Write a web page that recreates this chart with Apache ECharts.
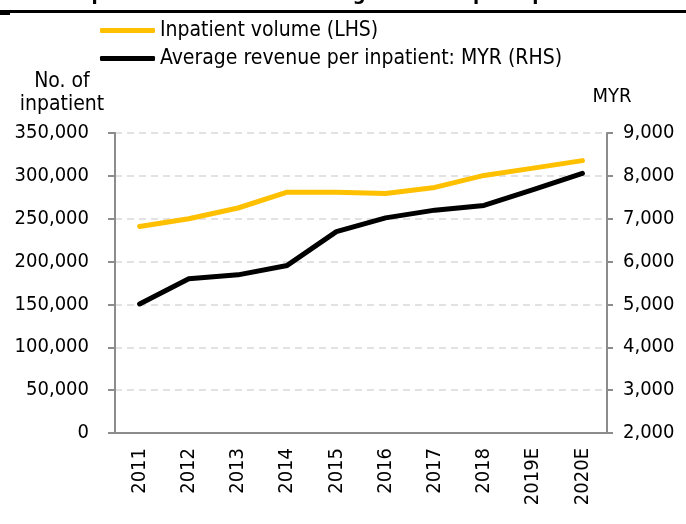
<!DOCTYPE html>
<html>
<head>
<meta charset="utf-8">
<script src="https://cdn.jsdelivr.net/npm/echarts@6/dist/echarts.min.js"></script>
<style>
  html, body { margin: 0; padding: 0; background: #fff; }
  #chart { width: 686px; height: 524px; }
</style>
</head>
<body>
<div id="chart"></div>
<script>
const years = ['2011', '2012', '2013', '2014', '2015', '2016', '2017', '2018', '2019E', '2020E'];
const inpatientVolume = [241000, 250000, 262500, 281000, 280800, 279400, 286500, 300500, 309000, 317800];
const revenuePerInpatient = [5010, 5600, 5690, 5910, 6700, 7020, 7200, 7310, 7680, 8060];

const FONT = 'DejaVu Sans Condensed';
const axisGray = '#8c8c8c';

let chart = echarts.init(document.getElementById('chart'));

let options = {
  animation: false,
  textStyle: { fontFamily: FONT },
  legend: {
    orient: 'vertical',
    left: 100,
    top: 20,
    padding: 0,
    itemGap: 7,
    itemWidth: 55,
    itemHeight: 5,
    icon: 'roundRect',
    textStyle: { fontFamily: FONT, fontSize: 21, lineHeight: 21, color: '#000' },
    data: ['Inpatient volume (LHS)', 'Average revenue per inpatient: MYR (RHS)']
  },
  grid: { left: 115, right: 79, top: 133, bottom: 91 },
  xAxis: {
    type: 'category',
    data: years,
    boundaryGap: true,
    axisLine: { lineStyle: { color: axisGray, width: 2 } },
    axisTick: { length: 6, lineStyle: { color: axisGray, width: 2 } },
    axisLabel: { rotate: 90, margin: 15, fontSize: 20, color: '#000', fontFamily: FONT }
  },
  yAxis: [
    {
      type: 'value',
      min: 0,
      max: 350000,
      interval: 50000,
      axisLine: { show: true, lineStyle: { color: axisGray, width: 2 } },
      axisTick: { show: true, length: 7, lineStyle: { color: axisGray, width: 2 } },
      axisLabel: {
        margin: 26, fontSize: 20, color: '#000', fontFamily: FONT,
        formatter: v => v.toLocaleString('en-US')
      },
      splitLine: { lineStyle: { color: '#d9d9d9', width: 1.5, type: [7, 5] } }
    },
    {
      type: 'value',
      min: 2000,
      max: 9000,
      interval: 1000,
      position: 'right',
      axisLine: { show: true, lineStyle: { color: axisGray, width: 2 } },
      axisTick: { show: true, length: 6, lineStyle: { color: axisGray, width: 2 } },
      axisLabel: {
        margin: 16, fontSize: 20, color: '#000', fontFamily: FONT,
        formatter: v => v.toLocaleString('en-US')
      },
      splitLine: { show: false }
    }
  ],
  series: [
    {
      name: 'Inpatient volume (LHS)',
      type: 'line',
      yAxisIndex: 0,
      data: inpatientVolume,
      showSymbol: false,
      color: '#ffc000',
      lineStyle: { width: 5, color: '#ffc000', cap: 'round', join: 'round' }
    },
    {
      name: 'Average revenue per inpatient: MYR (RHS)',
      type: 'line',
      yAxisIndex: 1,
      data: revenuePerInpatient,
      showSymbol: false,
      color: '#000',
      lineStyle: { width: 5, color: '#000', cap: 'round', join: 'round' }
    }
  ],
  graphic: [
    // header text, mostly cut off above the frame
    {
      type: 'text', left: 72, top: -15,
      style: { text: 'Inpatient volume and average revenue per inpatient', font: 'bold 20px ' + FONT, fill: '#000' }
    },
    { type: 'rect', left: 0, top: 10, shape: { width: 686, height: 3 }, style: { fill: '#000' } },
    { type: 'rect', left: 0, top: 12, shape: { width: 10, height: 3 }, style: { fill: '#000' } },
    // axis titles
    {
      type: 'text', x: 62, y: 70,
      style: { text: 'No. of\ninpatient', font: '21px ' + FONT, fill: '#000', align: 'center', verticalAlign: 'top', lineHeight: 23 }
    },
    {
      type: 'text', x: 612, y: 87,
      style: { text: 'MYR', font: '20px ' + FONT, fill: '#000', align: 'center', verticalAlign: 'top' }
    }
  ]
};

chart.setOption(options);
window.addEventListener('resize', function () {
  chart.resize();
});
</script>
</body>
</html>
